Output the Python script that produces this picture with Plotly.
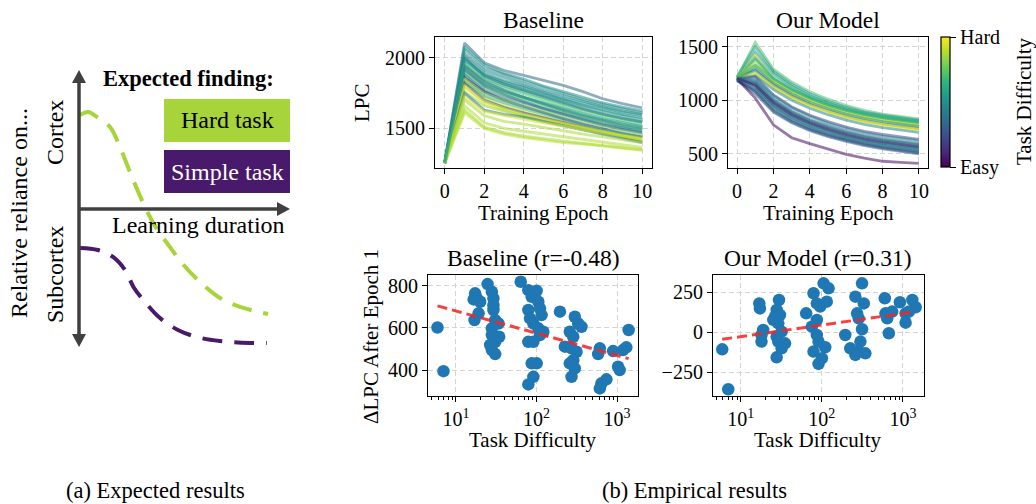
import numpy as np
import plotly.graph_objects as go
from plotly.colors import sample_colorscale

W, H = 1036, 504
FONT = "Liberation Serif, Times New Roman, serif"

# ---------------------------------------------------------------- data
epochs = list(range(11))

# Baseline: LPC per epoch for each task, with the task's difficulty
baseline_difficulty = [40, 90, 100, 70, 110, 25, 80, 120, 300, 30, 18, 95, 250, 60, 8,
                       350, 1100, 200, 20, 1300, 900, 600, 45, 1000, 700, 750, 650, 800,
                       150, 130]
baseline_lpc = [
    [1265, 2105, 1965, 1910, 1875, 1840, 1805, 1760, 1710, 1675, 1645],
    [1260, 2080, 1950, 1890, 1850, 1800, 1760, 1720, 1680, 1650, 1625],
    [1255, 2060, 1930, 1880, 1835, 1790, 1745, 1705, 1670, 1640, 1610],
    [1270, 2030, 1910, 1860, 1815, 1770, 1730, 1690, 1655, 1625, 1600],
    [1265, 2010, 1890, 1840, 1800, 1755, 1715, 1680, 1645, 1615, 1590],
    [1260, 2000, 1870, 1815, 1770, 1725, 1680, 1640, 1600, 1570, 1545],
    [1250, 1980, 1880, 1830, 1790, 1745, 1705, 1665, 1630, 1600, 1575],
    [1260, 1960, 1850, 1800, 1760, 1715, 1675, 1635, 1600, 1570, 1545],
    [1265, 1950, 1840, 1785, 1745, 1700, 1660, 1620, 1585, 1555, 1525],
    [1255, 1940, 1830, 1770, 1720, 1670, 1625, 1585, 1550, 1520, 1495],
    [1260, 1920, 1800, 1740, 1690, 1640, 1600, 1560, 1525, 1495, 1470],
    [1265, 1910, 1810, 1760, 1720, 1675, 1635, 1595, 1560, 1530, 1505],
    [1260, 1890, 1790, 1740, 1700, 1655, 1615, 1580, 1545, 1515, 1490],
    [1255, 1880, 1770, 1720, 1680, 1640, 1600, 1565, 1530, 1500, 1475],
    [1260, 1860, 1760, 1700, 1655, 1610, 1570, 1530, 1495, 1465, 1440],
    [1265, 1850, 1750, 1700, 1660, 1620, 1585, 1550, 1515, 1485, 1460],
    [1260, 1840, 1720, 1660, 1620, 1580, 1545, 1510, 1480, 1450, 1425],
    [1260, 1830, 1730, 1680, 1640, 1600, 1560, 1525, 1490, 1460, 1435],
    [1255, 1820, 1700, 1650, 1610, 1575, 1540, 1505, 1470, 1440, 1410],
    [1260, 1800, 1680, 1630, 1590, 1560, 1530, 1500, 1470, 1445, 1420],
    [1265, 1790, 1690, 1640, 1600, 1565, 1535, 1505, 1475, 1450, 1430],
    [1260, 1760, 1660, 1620, 1585, 1550, 1520, 1490, 1465, 1440, 1415],
    [1255, 1750, 1630, 1600, 1580, 1550, 1520, 1490, 1460, 1430, 1400],
    [1260, 1720, 1620, 1590, 1565, 1540, 1515, 1490, 1465, 1445, 1425],
    [1260, 1700, 1590, 1550, 1530, 1505, 1480, 1460, 1440, 1420, 1400],
    [1265, 1660, 1540, 1500, 1480, 1460, 1440, 1420, 1400, 1380, 1365],
    [1260, 1630, 1510, 1470, 1445, 1425, 1410, 1395, 1380, 1365, 1350],
    [1255, 1610, 1500, 1460, 1435, 1415, 1400, 1390, 1375, 1360, 1345],
    [1260, 1940, 1820, 1760, 1720, 1680, 1640, 1605, 1570, 1540, 1515],
    [1265, 1990, 1870, 1815, 1775, 1735, 1695, 1655, 1620, 1590, 1560],
]

# Our model: LPC per epoch for each task, with the task's difficulty
model_difficulty = [300, 120, 100, 1200, 250, 150, 1000, 700, 90, 30, 600, 1400, 80, 20,
                    60, 40, 100, 28, 18, 70, 25, 110, 16, 35, 7, 200, 50, 10]
model_lpc = [
    [1210, 1540, 1290, 1170, 1080, 1010, 950, 905, 870, 845, 825],
    [1220, 1500, 1270, 1150, 1060, 990, 935, 890, 860, 835, 815],
    [1200, 1450, 1250, 1130, 1040, 975, 920, 880, 850, 825, 805],
    [1205, 1420, 1190, 1090, 1010, 950, 900, 860, 830, 805, 780],
    [1215, 1400, 1220, 1110, 1030, 965, 915, 875, 845, 820, 800],
    [1190, 1380, 1200, 1095, 1020, 955, 905, 865, 835, 810, 790],
    [1210, 1350, 1170, 1070, 990, 930, 880, 840, 810, 785, 760],
    [1200, 1320, 1180, 1080, 1000, 940, 890, 850, 820, 795, 770],
    [1195, 1300, 1160, 1060, 980, 920, 870, 830, 800, 775, 755],
    [1205, 1280, 1140, 1040, 960, 900, 850, 810, 780, 755, 735],
    [1215, 1260, 1130, 1030, 955, 895, 845, 805, 775, 750, 730],
    [1200, 1240, 1120, 1020, 945, 890, 840, 800, 770, 745, 725],
    [1210, 1230, 1100, 1000, 925, 865, 815, 775, 745, 720, 700],
    [1195, 1220, 1050, 940, 860, 800, 750, 710, 680, 655, 635],
    [1200, 1200, 1040, 930, 850, 785, 735, 695, 665, 640, 620],
    [1210, 1180, 1010, 900, 820, 760, 710, 670, 640, 615, 595],
    [1190, 1160, 990, 880, 800, 740, 690, 650, 620, 595, 575],
    [1200, 1150, 970, 860, 780, 720, 670, 630, 600, 575, 555],
    [1205, 1130, 950, 840, 760, 700, 650, 610, 580, 555, 535],
    [1195, 1120, 960, 850, 770, 710, 660, 620, 590, 565, 545],
    [1180, 1100, 930, 820, 740, 680, 635, 595, 565, 540, 520],
    [1200, 1090, 920, 815, 740, 685, 640, 600, 570, 545, 525],
    [1190, 1080, 900, 800, 725, 670, 625, 585, 555, 530, 505],
    [1185, 1060, 890, 790, 715, 660, 615, 575, 545, 520, 500],
    [1200, 1020, 770, 650, 595, 545, 495, 460, 430, 420, 410],
    [1215, 1330, 1200, 1100, 1020, 955, 905, 865, 835, 810, 790],
    [1195, 1170, 1000, 890, 810, 750, 700, 660, 630, 605, 585],
    [1205, 1140, 980, 870, 790, 730, 680, 640, 610, 585, 565],
]

# Change in LPC after epoch 1 versus task difficulty
base_scatter_difficulty = [
    5.9, 7.0,
    17.3, 18.2, 16.6, 20.0, 19.1, 17.0,
    24.7, 27.9, 29.2, 29.2, 29.2, 30.7, 33.7, 27.9, 27.9, 34.4, 30.7, 26.6, 27.9, 30.7,
    63.7,
    79.2, 100.5, 87.1, 105.4, 110.5, 79.2, 115.8, 83.1, 91.4, 105.4, 121.6, 110.5, 79.2,
    91.4, 87.1, 100.5, 91.4, 79.2,
    195.5,
    299, 329, 362, 259, 286, 225, 272, 314, 286, 259, 299, 272,
    611, 582, 738, 640, 611,
    893, 1029, 1079, 1186, 1303, 1393,
]
base_scatter_delta = [
    602, 395,
    764, 740, 735, 724, 669, 637,
    808, 772, 740, 708, 685, 637, 621, 598, 566, 558, 534, 519, 495, 476,
    819,
    779, 776, 748, 724, 692, 685, 661, 645, 621, 598, 582, 566, 534,
    534, 432, 432, 368, 332,
    677,
    653, 621, 605, 582, 558, 511, 503, 487, 447, 432, 408, 368,
    503, 476, 356, 337, 313,
    490, 416, 400, 495, 508, 590,
]

model_scatter_difficulty = [
    5.9, 7.0,
    16.9, 17.2, 18.9, 18.0, 18.0,
    29.6, 27.7, 26.4, 25.2, 30.4, 29.0, 31.9, 27.7, 29.0, 35.1, 31.9, 27.7,
    64.0, 78.9, 86.7, 105, 121, 95.3, 115, 86.7, 75.2, 86.7, 91.0, 78.9, 110, 100, 91.0,
    194.5, 259, 313, 329, 285, 313, 299, 224, 285, 344, 259, 272,
    598, 610, 640, 670, 738,
    918, 1079, 1079, 1306, 1435, 1186,
]
model_scatter_delta = [
    -107, -356,
    179, 148, 13, -18, -59,
    200, 138, 96, 76, 107, 55, 3, -28, -59, -70, -101, -157,
    117, 242, 179, 304, 273, 159, 190, 76, 34, -18, -59, -121, -94, -163, -198,
    -18, 221, 304, 179, 86, 18, -59, -101, -121, -132, -142, 117,
    211, 117, 86, -7, 128,
    186, 117, 59, 200, 155, 128,
]

# Schematic of the expected finding (learning duration 0..1, reliance -1..1)
hard_duration = [0.005, 0.043, 0.085, 0.147, 0.194, 0.251, 0.313, 0.360, 0.431, 0.488,
                 0.564, 0.668, 0.763, 0.896]
hard_reliance = [0.675, 0.697, 0.661, 0.588, 0.444, 0.227, 0.011, -0.126, -0.278, -0.394,
                 -0.516, -0.646, -0.711, -0.762]
simple_duration = [0.005, 0.090, 0.161, 0.218, 0.261, 0.313, 0.384, 0.469, 0.559, 0.668,
                   0.810, 0.891]
simple_reliance = [-0.285, -0.300, -0.350, -0.444, -0.574, -0.675, -0.791, -0.877, -0.928,
                   -0.957, -0.971, -0.971]

DIFF_LO, DIFF_HI = 5.9, 1450.0
HARD_GREEN = "#a6d43a"
SIMPLE_PURPLE = "#491a6b"
POINT_BLUE = "#1f77b4"
TREND_RED = "rgba(240,40,40,0.88)"
ARROW_GREY = "#404040"


def px_x(x):
    return x / W


def px_y(y):
    return 1 - y / H


def difficulty_color(d, alpha):
    t = (np.log10(d) - np.log10(DIFF_LO)) / (np.log10(DIFF_HI) - np.log10(DIFF_LO))
    t = float(min(max(t, 0.0), 1.0))
    rgb = sample_colorscale("Viridis", [t])[0]
    r, g, b = [int(float(v)) for v in rgb[rgb.index("(") + 1:-1].split(",")]
    return f"rgba({r},{g},{b},{alpha})"


fig = go.Figure()

# ------------------------------------------------------- LPC curves
for d, vals in zip(baseline_difficulty, baseline_lpc):
    fig.add_trace(go.Scatter(x=epochs, y=vals, mode="lines", xaxis="x", yaxis="y",
                             line=dict(color=difficulty_color(d, 0.55), width=2.8),
                             hoverinfo="skip", showlegend=False))
for d, vals in zip(model_difficulty, model_lpc):
    fig.add_trace(go.Scatter(x=epochs, y=vals, mode="lines", xaxis="x2", yaxis="y2",
                             line=dict(color=difficulty_color(d, 0.55), width=2.8),
                             hoverinfo="skip", showlegend=False))

# colour bar for task difficulty
lo, hi = np.log10(DIFF_LO), np.log10(DIFF_HI)
fig.add_trace(go.Scatter(
    x=[None], y=[None], mode="markers", xaxis="x", yaxis="y", showlegend=False,
    marker=dict(color=[lo], cmin=lo, cmax=hi, colorscale="Viridis", showscale=True,
                colorbar=dict(x=px_x(941), xanchor="left", xpad=0, ypad=0,
                              y=px_y(102), yanchor="middle", len=130 / H, lenmode="fraction",
                              thickness=9, thicknessmode="pixels",
                              outlinewidth=1.2, outlinecolor="black",
                              tickmode="array", tickvals=[lo, hi], ticktext=["Easy", "Hard"],
                              ticks="outside", ticklen=6, tickwidth=1.2, tickcolor="black",
                              tickfont=dict(family=FONT, size=20, color="black"))),
))


# ------------------------------------------------------- scatter panels
def add_scatter_panel(xs, ys, xa, ya):
    fig.add_trace(go.Scatter(x=xs, y=ys, mode="markers", xaxis=xa, yaxis=ya,
                             marker=dict(size=12.5, color=POINT_BLUE, line=dict(width=0)),
                             hoverinfo="skip", showlegend=False))
    lx = np.log10(np.array(xs, dtype=float))
    slope, intercept = np.polyfit(lx, np.array(ys, dtype=float), 1)
    ends = np.array([lx.min(), lx.max()])
    fig.add_trace(go.Scatter(x=10 ** ends, y=slope * ends + intercept, mode="lines",
                             xaxis=xa, yaxis=ya,
                             line=dict(color=TREND_RED, width=3, dash="10px,5px"),
                             hoverinfo="skip", showlegend=False))


add_scatter_panel(base_scatter_difficulty, base_scatter_delta, "x3", "y3")
add_scatter_panel(model_scatter_difficulty, model_scatter_delta, "x4", "y4")

# ------------------------------------------------------- schematic
fig.add_trace(go.Scatter(x=hard_duration, y=hard_reliance, mode="lines", xaxis="x5", yaxis="y5",
                         line=dict(color=HARD_GREEN, width=4, dash="20px,12px", shape="spline"),
                         hoverinfo="skip", showlegend=False))
fig.add_trace(go.Scatter(x=simple_duration, y=simple_reliance, mode="lines", xaxis="x5", yaxis="y5",
                         line=dict(color=SIMPLE_PURPLE, width=4, dash="20px,12px", shape="spline"),
                         hoverinfo="skip", showlegend=False))

# ------------------------------------------------------- axes
tickfont = dict(family=FONT, size=20, color="black")


def axis_style(**kw):
    base = dict(showline=True, linecolor="black", linewidth=1.2, mirror=True,
                ticks="outside", ticklen=5, tickwidth=1.2, tickcolor="black",
                showgrid=True, gridcolor="#d4d4d4", griddash="5px,3px", gridwidth=1,
                zeroline=False, tickfont=tickfont, fixedrange=True)
    base.update(kw)
    return base


minor_log = [v * m for v in (1, 10, 100, 1000) for m in range(2, 10)]
log_ticks = dict(type="log", tickmode="array", tickvals=[10, 100, 1000],
                 ticktext=["10<sup>1</sup>", "10<sup>2</sup>", "10<sup>3</sup>"],
                 minor=dict(ticks="outside", ticklen=3, tickwidth=1, tickcolor="black",
                            tickmode="array", tickvals=minor_log, showgrid=False))

fig.update_layout(
    width=W, height=H, margin=dict(l=0, r=0, t=0, b=0),
    paper_bgcolor="white", plot_bgcolor="white", showlegend=False,
    xaxis=axis_style(domain=[px_x(435), px_x(652)], range=[-0.5, 10.5],
                     tickmode="array", tickvals=[0, 2, 4, 6, 8, 10], anchor="y"),
    yaxis=axis_style(domain=[px_y(168), px_y(37)], range=[1220, 2147],
                     tickmode="array", tickvals=[1500, 2000], anchor="x"),
    xaxis2=axis_style(domain=[px_x(728), px_x(928)], range=[-0.5, 10.5],
                      tickmode="array", tickvals=[0, 2, 4, 6, 8, 10], anchor="y2"),
    yaxis2=axis_style(domain=[px_y(168), px_y(37)], range=[367, 1591],
                      tickmode="array", tickvals=[500, 1000, 1500], anchor="x2"),
    xaxis3=axis_style(domain=[px_x(428), px_x(638)], range=[0.653, 3.26], anchor="y3",
                      **log_ticks),
    yaxis3=axis_style(domain=[px_y(396), px_y(275)], range=[277, 851],
                      tickmode="array", tickvals=[400, 600, 800], anchor="x3"),
    xaxis4=axis_style(domain=[px_x(713), px_x(924)], range=[0.657, 3.26], anchor="y4",
                      **log_ticks),
    yaxis4=axis_style(domain=[px_y(396), px_y(275)], range=[-398, 356],
                      tickmode="array", tickvals=[-250, 0, 250], anchor="x4"),
    xaxis5=dict(domain=[px_x(79), px_x(290)], range=[0, 1], visible=False, fixedrange=True,
                anchor="y5"),
    yaxis5=dict(domain=[px_y(347), px_y(70)], range=[-1, 1], visible=False, fixedrange=True,
                anchor="x5"),
)

# ------------------------------------------------------- text
annotations = []


def label(text, x, y, size, angle=0, color="black"):
    annotations.append(dict(text=text, x=px_x(x), y=px_y(y), xref="paper", yref="paper",
                            showarrow=False, textangle=angle, xanchor="center",
                            yanchor="middle",
                            font=dict(family=FONT, size=size, color=color)))


# panel titles
label("Baseline", 543.5, 20, 23.5)
label("Our Model", 828, 20, 23.5)
label("Baseline (r=-0.48)", 533, 258, 23.5)
label("Our Model (r=0.31)", 818, 258, 23.5)
# axis titles
label("LPC", 362, 103, 21, angle=-90)
label("Training Epoch", 543.5, 213, 21)
label("Training Epoch", 828, 213, 21)
label("ΔLPC After Epoch 1", 371, 337, 21, angle=-90)
label("Task Difficulty", 533, 440, 21)
label("Task Difficulty", 818, 440, 21)
label("Task Difficulty", 1024, 101, 21, angle=-90)
# schematic text
label("<b>Expected finding:</b>", 188, 78, 22.5)
label("Hard task", 227, 120, 24)
label("Simple task", 227, 172, 24, color="white")
label("Learning duration", 198, 225, 24)
label("Cortex", 55, 133, 24, angle=-90)
label("Subcortex", 55, 275, 24, angle=-90)
label("Relative reliance on...", 19, 213, 24, angle=-90)
# captions
label("(a) Expected results", 155, 490, 22.5)
label("(b) Empirical results", 694, 490, 22.5)

fig.update_layout(annotations=annotations)

# ------------------------------------------------------- schematic axes and boxes
AX_X, AX_TOP, AX_BOT, AX_MID, AX_RIGHT = 79, 70, 347, 209, 290
HEAD_L, HEAD_W = 13, 7


def path(points):
    return "M " + " L ".join(f"{px_x(x)},{px_y(y)}" for x, y in points) + " Z"


shapes = [
    dict(type="rect", xref="paper", yref="paper", x0=px_x(164), x1=px_x(290),
         y0=px_y(142), y1=px_y(99), fillcolor=HARD_GREEN, line=dict(width=0), layer="below"),
    dict(type="rect", xref="paper", yref="paper", x0=px_x(164), x1=px_x(290),
         y0=px_y(193), y1=px_y(150), fillcolor=SIMPLE_PURPLE, line=dict(width=0), layer="below"),
    # vertical double-headed axis
    dict(type="line", xref="paper", yref="paper", x0=px_x(AX_X), x1=px_x(AX_X),
         y0=px_y(AX_TOP + HEAD_L - 1), y1=px_y(AX_BOT - HEAD_L + 1),
         line=dict(color=ARROW_GREY, width=3.5)),
    dict(type="path", xref="paper", yref="paper", fillcolor=ARROW_GREY, line=dict(width=0),
         path=path([(AX_X, AX_TOP), (AX_X - HEAD_W, AX_TOP + HEAD_L),
                    (AX_X + HEAD_W, AX_TOP + HEAD_L)])),
    dict(type="path", xref="paper", yref="paper", fillcolor=ARROW_GREY, line=dict(width=0),
         path=path([(AX_X, AX_BOT), (AX_X - HEAD_W, AX_BOT - HEAD_L),
                    (AX_X + HEAD_W, AX_BOT - HEAD_L)])),
    # horizontal axis
    dict(type="line", xref="paper", yref="paper", x0=px_x(AX_X), x1=px_x(AX_RIGHT - HEAD_L + 1),
         y0=px_y(AX_MID), y1=px_y(AX_MID), line=dict(color=ARROW_GREY, width=3.5)),
    dict(type="path", xref="paper", yref="paper", fillcolor=ARROW_GREY, line=dict(width=0),
         path=path([(AX_RIGHT, AX_MID), (AX_RIGHT - HEAD_L, AX_MID - HEAD_W),
                    (AX_RIGHT - HEAD_L, AX_MID + HEAD_W)])),
]
fig.update_layout(shapes=shapes)

fig.write_html("out.html")
